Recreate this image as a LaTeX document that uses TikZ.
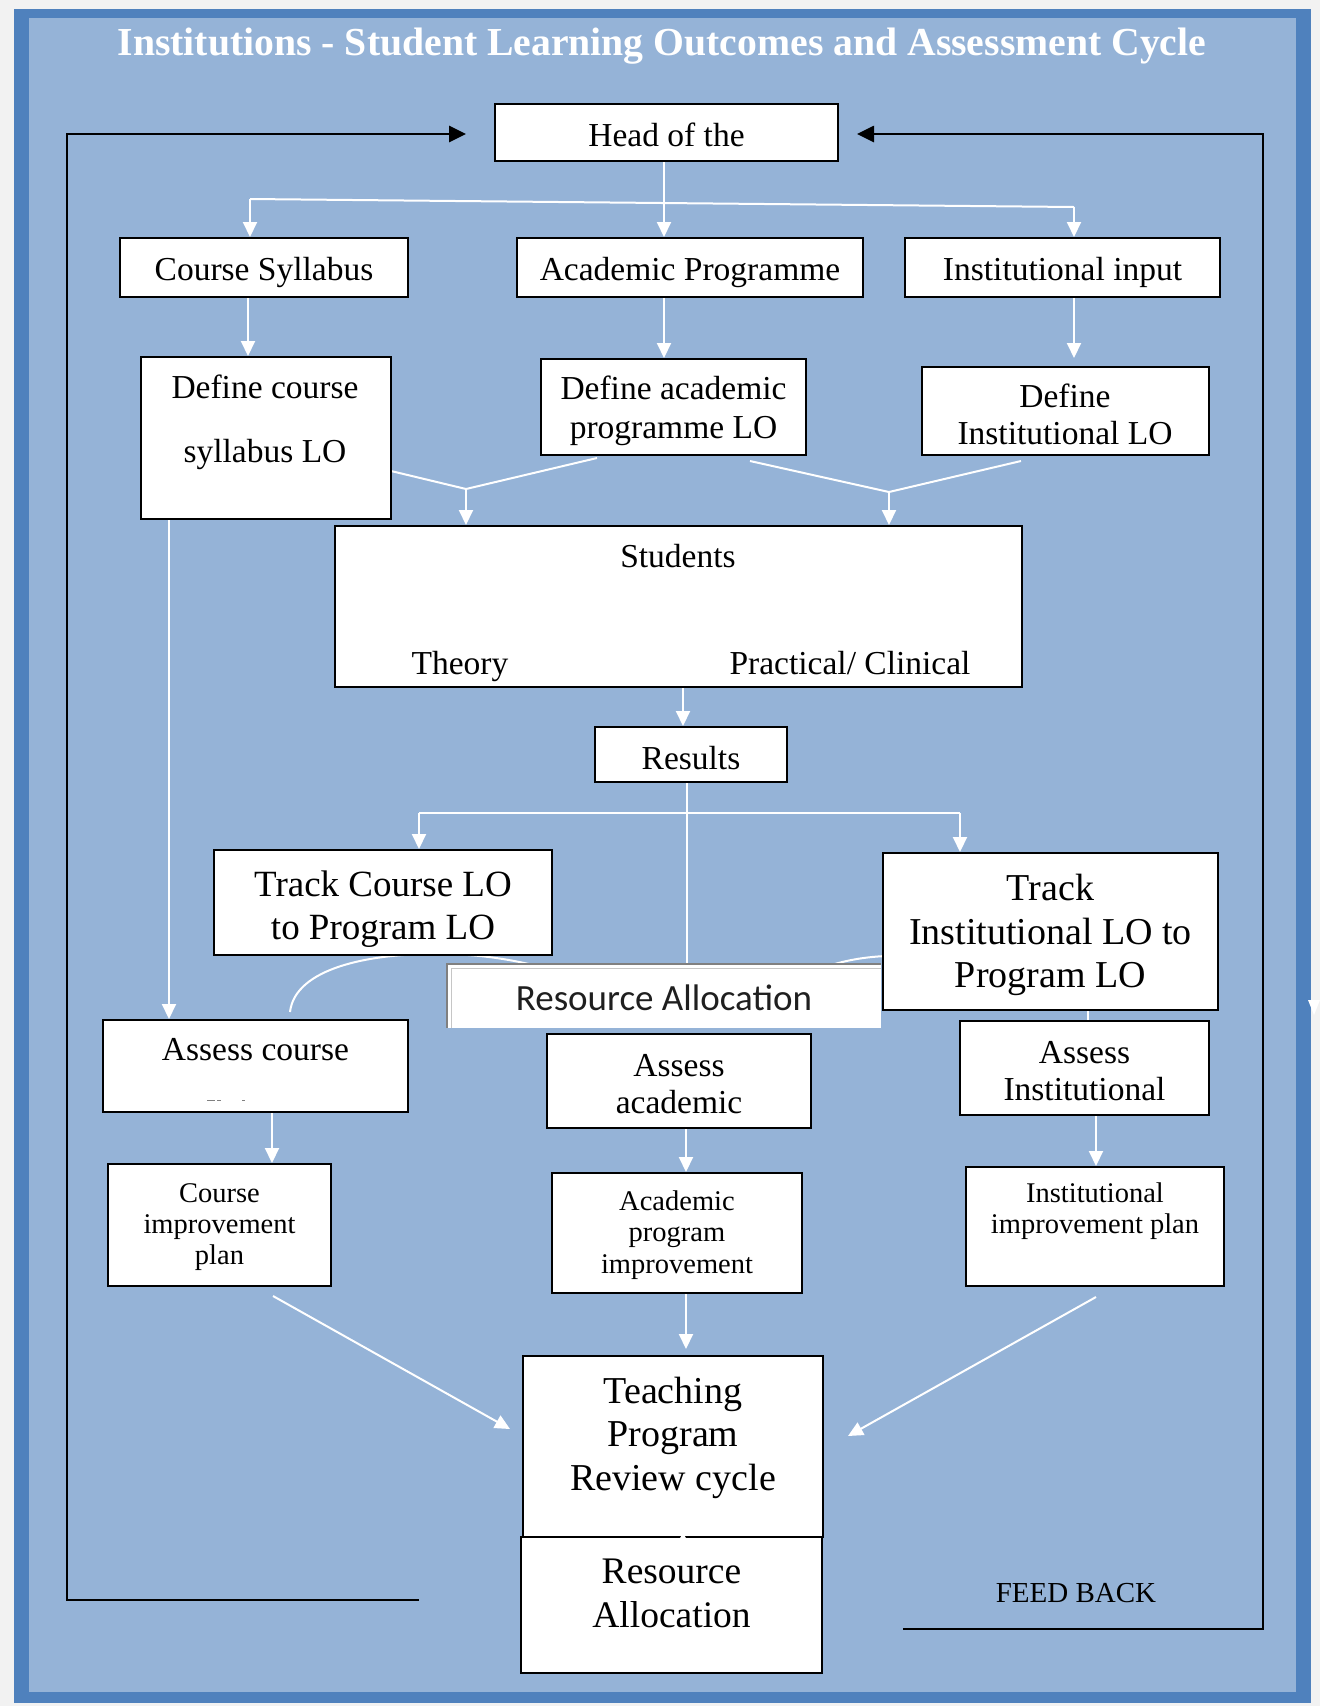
\documentclass[tikz,border=0pt]{standalone}
\usepackage{fontspec}
\setmainfont{Liberation Serif}
\newfontfamily\calibfont{Carlito}
\usetikzlibrary{arrows.meta,calc}
\definecolor{pagegrey}{HTML}{F2F2F2}
\definecolor{framedark}{HTML}{4F81BD}
\definecolor{framelight}{HTML}{95B3D7}
\pgfdeclarelayer{bg}
\pgfdeclarelayer{back}
\pgfsetlayers{bg,back,main}

\begin{document}
\begin{tikzpicture}[x=1pt,y=-1pt,
  box/.style={draw=black, line width=2pt, fill=white, inner sep=0pt},
  sz/.style 2 args={font=\fontsize{#1}{#2}\selectfont},
  lbl/.style={inner sep=0pt, align=center},
  wl/.style={draw=white, line width=2pt},
  wa/.style={draw=white, line width=2pt, -{Triangle[length=15pt,width=14pt]}},
  fb/.style={draw=black, line width=2.7pt},
  fba/.style={fb, -{Triangle[length=17pt,width=16pt]}}
]
\useasboundingbox (0,0) rectangle (1320,1706);

% frame and page
\begin{pgfonlayer}{bg}
  \fill[pagegrey] (0,0) rectangle (1320,1706);
  \fill[framedark] (14,9) rectangle (1311,1703);
  \fill[framelight] (29,18) rectangle (1296,1692);
\end{pgfonlayer}

% title
\node[font=\bfseries\fontsize{39.7}{44}\selectfont, text=white, anchor=base] (title) at (662,55)
  {Institutions - Student Learning Outcomes and Assessment Cycle};

% ---------- boxes ----------
\node[box, minimum width=343pt, minimum height=57pt] (head) at (666.5,132.5) {};
\node[lbl, sz={33.5}{40}] (headT) at (666.5,135) {Head of the};

\node[box, minimum width=288pt, minimum height=59pt] (cs) at (264,267.5) {};
\node[lbl, sz={33.5}{40}] (csT) at (264,272) {Course Syllabus};
\node[box, minimum width=346pt, minimum height=59pt] (ap) at (690,267.5) {};
\node[lbl, sz={33.5}{40}] (apT) at (690,272) {Academic Programme};
\node[box, minimum width=315pt, minimum height=59pt] (ii) at (1062.5,267.5) {};
\node[lbl, sz={33.5}{40}] (iiT) at (1062.5,272) {Institutional input};

\node[box, minimum width=250pt, minimum height=162pt] (dcs) at (266,438) {};
\node[lbl, sz={33.5}{64}] (dcsT) at (265,422) {Define course\\syllabus LO};
\node[box, minimum width=265pt, minimum height=96pt] (dap) at (673.5,407) {};
\node[lbl, sz={33.5}{39}] (dapT) at (673.5,411) {Define academic\\programme LO};
\node[box, minimum width=287pt, minimum height=88pt] (dil) at (1065.5,411) {};
\node[lbl, sz={33.5}{37}] (dilT) at (1065,414.5) {Define\\Institutional LO};

\node[box, minimum width=687pt, minimum height=161pt] (stu) at (678.5,606.5) {};
\node[lbl, sz={33.5}{40}] (stuT) at (678,556) {Students};
\node[lbl, sz={33.5}{40}] (theory) at (460,666) {Theory};
\node[lbl, sz={33.5}{40}] (prac) at (850,663) {Practical/ Clinical};

\node[box, minimum width=192pt, minimum height=55pt] (res) at (691,754.5) {};
\node[lbl, sz={33.5}{40}] (resT) at (691,758) {Results};

\node[box, minimum width=338pt, minimum height=105pt] (tcl) at (383,902.5) {};
\node[lbl, sz={37}{43}] (tclT) at (383,909) {Track Course LO\\to Program LO};
\node[box, minimum width=335pt, minimum height=157pt] (til) at (1050.5,931.5) {};
\node[lbl, sz={38}{43.5}] (tilT) at (1050.5,935) {Track\\Institutional LO to\\Program LO};

\node[fill=white, inner sep=0pt, minimum width=434pt, minimum height=64pt] (ram) at (664,996) {};
\node[lbl, font=\calibfont\fontsize{37}{40}\selectfont, text=black!88] (ramT) at (664,998) {Resource Allocation};
\draw[gray!45, line width=1pt] (451,1028) -- (451,968) -- (881,968);
\draw[gray, line width=1.2pt] (447,1028) -- (447,964) -- (881,964);

\node[box, minimum width=305pt, minimum height=92pt] (ac) at (255.5,1066) {};
\node[lbl, sz={33.5}{40}] (acT) at (255.5,1050) {Assess course};
\draw[gray, line width=1pt] (207,1100) -- (215,1100) (217,1100) -- (221,1100) (242,1100) -- (245,1100);
\node[box, minimum width=264pt, minimum height=94pt] (aa) at (679,1081) {};
\node[lbl, sz={33.5}{37}] (aaT) at (679,1084) {Assess\\academic};
\node[box, minimum width=249pt, minimum height=94pt] (ai) at (1084.5,1068) {};
\node[lbl, sz={33.5}{37}] (aiT) at (1084.5,1071) {Assess\\Institutional};

\node[box, minimum width=223pt, minimum height=122pt] (cip) at (219.5,1225) {};
\node[lbl, sz={28.5}{31}] (cipT) at (219.5,1227) {Course\\improvement\\plan};
\node[box, minimum width=250pt, minimum height=120pt] (apip) at (677,1233) {};
\node[lbl, sz={28.5}{31.5}] (apipT) at (677,1235) {Academic\\program\\improvement};
\node[box, minimum width=258pt, minimum height=119pt] (iip) at (1095,1226.5) {};
\node[lbl, sz={28.5}{31}] (iipT) at (1095,1211) {Institutional\\improvement plan};

\node[box, minimum width=300pt, minimum height=181pt] (trc) at (673,1446.5) {};
\node[lbl, sz={38}{43.5}] (trcT) at (673,1437.5) {Teaching\\Program\\Review cycle};
\node[box, minimum width=301pt, minimum height=136pt] (rab) at (671.5,1605) {};
\node[lbl, sz={37.5}{44}] (rabT) at (671.5,1593) {Resource\\Allocation};
\fill[white] (679.5,1539) -- (686.5,1539) -- (683,1533) -- cycle;

\node[lbl, sz={29}{34}] (feed) at (1076,1593) {FEED BACK};

% ---------- white connectors (behind the boxes) ----------
\begin{pgfonlayer}{back}
  \coordinate (hx) at (664,0);
  \coordinate (bl) at (250,199);
  \coordinate (br) at (1074,207);
  \draw[wa] (hx |- head.south) -- (hx |- ap.north);
  \draw[wl] (bl) -- (br);
  \draw[wa] (bl) -- (bl |- cs.north);
  \draw[wa] (br) -- (br |- ii.north);

  \coordinate (sx) at (248,0);
  \draw[wa] (sx |- cs.south) -- (sx |- dcs.north);
  \draw[wa] (hx |- ap.south) -- (hx |- dap.north);
  \coordinate (ix) at (1074,358);
  \draw[wa] (ix |- ii.south) -- (ix);

  \coordinate (jl) at (466,489);
  \coordinate (jla) at (391,471);
  \coordinate (jlb) at (597,458);
  \draw[wl] (jla) -- (jl) -- (jlb);
  \draw[wa] (jl) -- (jl |- stu.north);
  \coordinate (jr) at (889,492);
  \coordinate (jra) at (750,461);
  \coordinate (jrb) at (1021,461);
  \draw[wl] (jra) -- (jr) -- (jrb);
  \draw[wa] (jr) -- (jr |- stu.north);

  \coordinate (rx) at (683,0);
  \draw[wa] (rx |- stu.south) -- (rx |- res.north);
  \coordinate (mx) at (687,0);
  \draw[wl] (mx |- res.south) -- (mx |- ram.center);
  \coordinate (tl) at (419,813);
  \coordinate (tr) at (960,813);
  \draw[wl] (tl) -- (tr);
  \draw[wa] (tl) -- (tl |- tcl.north);
  \draw[wa] (tr) -- (tr |- til.north);

  \coordinate (lx) at (169,0);
  \draw[wa] (lx |- dcs.south) -- (lx |- ac.north);
  \coordinate (ax) at (272,0);
  \draw[wa] (ax |- ac.south) -- (ax |- cip.north);
  \coordinate (bx) at (686,0);
  \draw[wa] (bx |- aa.south) -- (bx |- apip.north);
  \coordinate (cx) at (1096,0);
  \draw[wa] (cx |- ai.south) -- (cx |- iip.north);
  \coordinate (dx) at (1088,0);
  \draw[wl] (dx |- til.south) -- (dx |- ai.north);

  \coordinate (p1) at (273,1296);
  \coordinate (q1) at (510,1429);
  \draw[wa] (p1) -- (q1);
  \coordinate (q2) at (686,1349);
  \draw[wa] (bx |- apip.south) -- (q2);
  \coordinate (p3) at (1096,1297);
  \coordinate (q3) at (848,1436);
  \draw[wa] (p3) -- (q3);

  % arc behind the tracking boxes
  \coordinate (k1) at (290,1012);
  \coordinate (k2) at (440,954);
  \coordinate (k3) at (545,968);
  \draw[wl] (k1) .. controls (295,968) and (370,953) .. (k2) .. controls (480,954) and (515,960) .. (k3);
  \coordinate (k4) at (822,968);
  \coordinate (k5) at (886,956);
  \draw[wl] (k4) .. controls (845,960) and (865,957) .. (k5);
\end{pgfonlayer}

% small tip at the page edge
\fill[white] (1308,1000) -- (1320,1000) -- (1314,1015) -- cycle;

% ---------- feedback loop ----------
\coordinate (fl0) at (419,1600);
\coordinate (fl1) at (67,1600);
\coordinate (fl2) at (67,134);
\coordinate (fl3) at (466,134);
\draw[fba] (fl0) -- (fl1) -- (fl2) -- (fl3);
\coordinate (fr0) at (903,1629);
\coordinate (fr1) at (1263,1629);
\coordinate (fr2) at (1263,134);
\coordinate (fr3) at (857,134);
\draw[fba] (fr0) -- (fr1) -- (fr2) -- (fr3);
\end{tikzpicture}
\end{document}
